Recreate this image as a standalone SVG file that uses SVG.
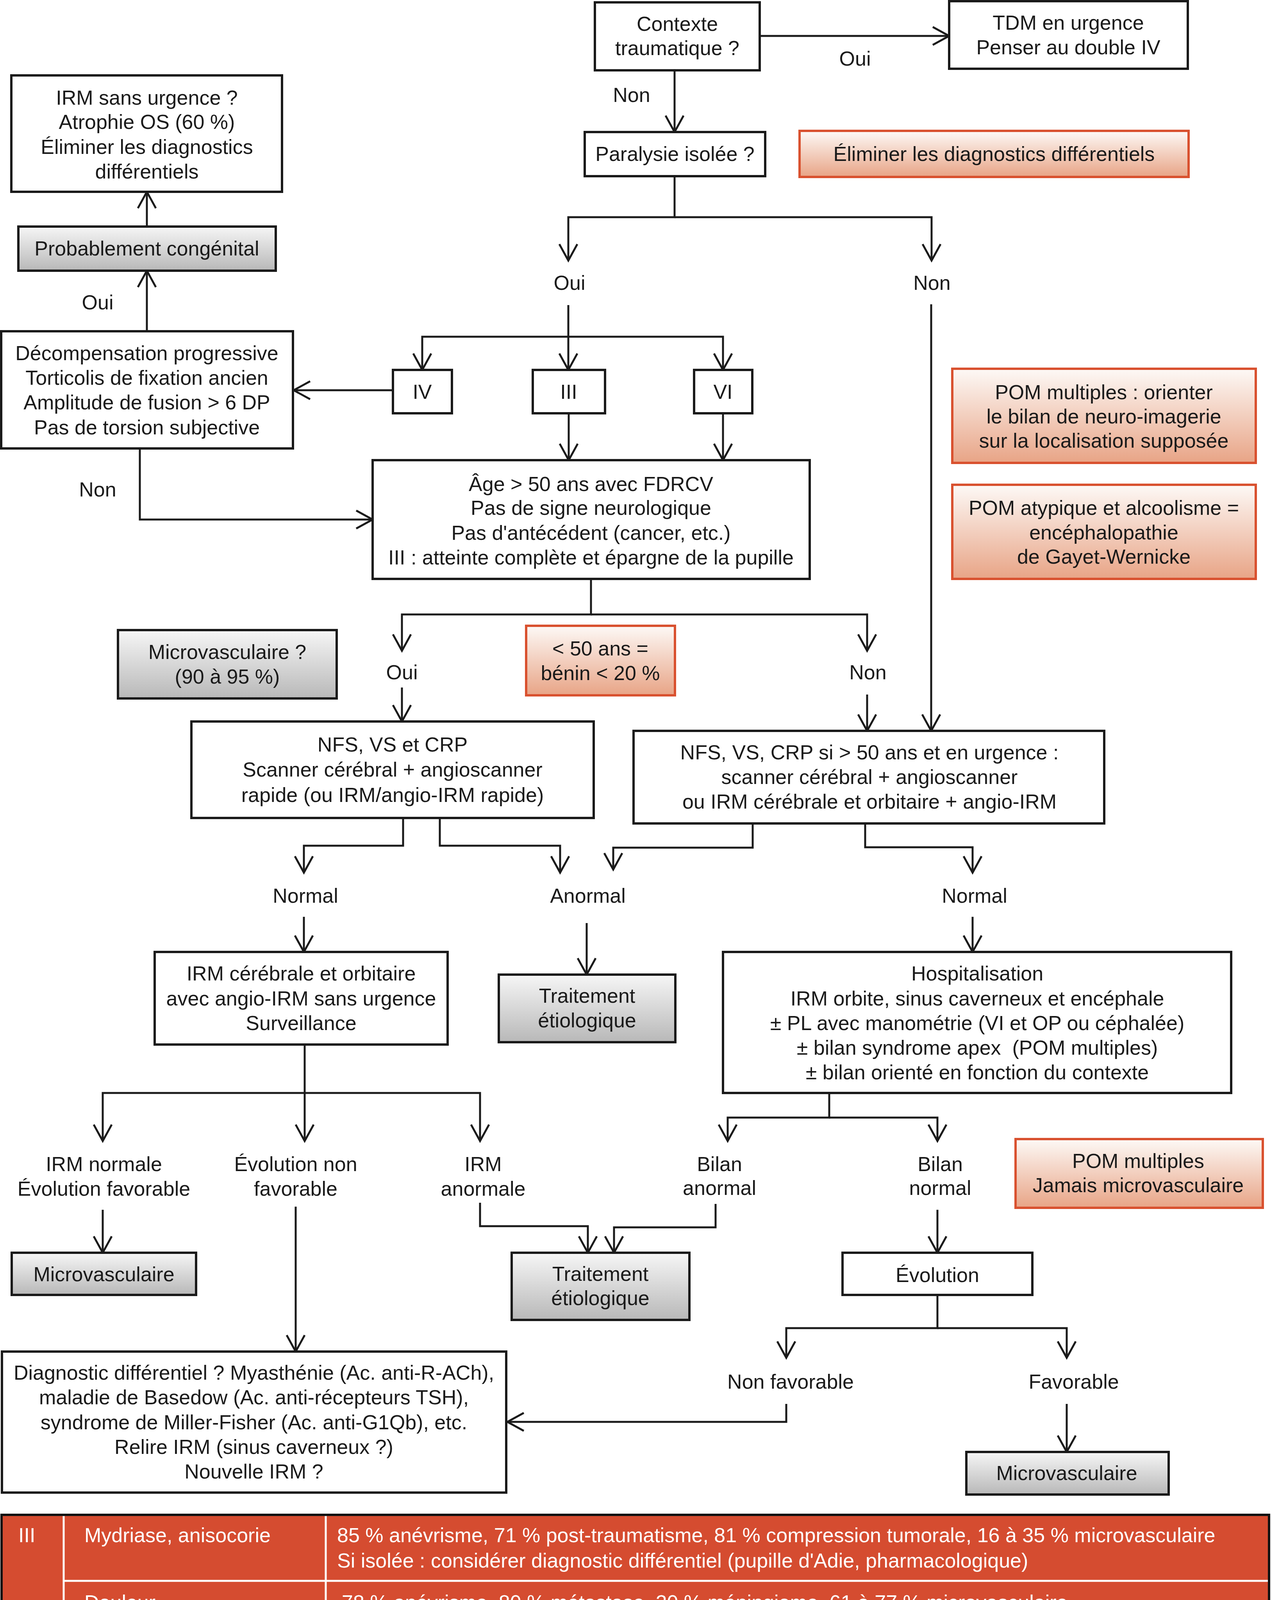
<svg xmlns="http://www.w3.org/2000/svg" width="3254" height="4664" viewBox="0 0 3254 4664">
<defs>
<linearGradient id="gg" x1="0" y1="0" x2="0" y2="1"><stop offset="0" stop-color="#f6f6f6"/><stop offset="1" stop-color="#b8b8b8"/></linearGradient>
<linearGradient id="og" x1="0" y1="0" x2="0" y2="1"><stop offset="0" stop-color="#fdf9f6"/><stop offset="1" stop-color="#e8a486"/></linearGradient>
<marker id="ah" markerUnits="userSpaceOnUse" viewBox="-48 -30 58 60" refX="0" refY="0" markerWidth="58" markerHeight="60" orient="auto"><path d="M-42,-23 L0,0 L-42,23" fill="none" stroke="#1a1a1a" stroke-width="5"/></marker>
</defs>
<style>
.n{fill:#fff;stroke:#1a1a1a;stroke-width:6}
.g{fill:url(#gg);stroke:#1a1a1a;stroke-width:6}
.o{fill:url(#og);stroke:#d9512f;stroke-width:6}
text{font-family:"Liberation Sans",Arial,Helvetica,sans-serif;font-size:52px;fill:#1a1a1a}
.c{text-anchor:middle}
.w{fill:#fff}
.a{fill:none;stroke:#1a1a1a;stroke-width:5;marker-end:url(#ah)}
.tl{stroke:#fff;stroke-width:5}
</style>
<rect width="3254" height="4664" fill="#fff"/>
<g id="connectors">
<path class="a" d="M1945,92 H2430"/>
<path class="a" d="M1727,180 V338"/>
<path class="a" d="M1727,451 V556 H1455 V667"/>
<path class="a" d="M1727,556 H2385 V667"/>
<path class="a" d="M1455,781 V947"/>
<path class="a" d="M1455,862 H1081 V947"/>
<path class="a" d="M1455,862 H1851 V947"/>
<path class="a" d="M1006,999 H752"/>
<path class="a" d="M376,848 V693"/>
<path class="a" d="M376,580 V491"/>
<path class="a" d="M358,1148 V1330 H954"/>
<path class="a" d="M1456,1058 V1178"/>
<path class="a" d="M1851,1058 V1178"/>
<path class="a" d="M2384,779 V1871"/>
<path class="a" d="M1513,1482 V1573 H1029 V1666"/>
<path class="a" d="M1513,1573 H2220 V1666"/>
<path class="a" d="M1029,1760 V1847"/>
<path class="a" d="M2220,1778 V1871"/>
<path class="a" d="M1032,2094 V2165 H778 V2234"/>
<path class="a" d="M1126,2094 V2165 H1434 V2234"/>
<path class="a" d="M1927,2108 V2170 H1570 V2226"/>
<path class="a" d="M2215,2108 V2169 H2490 V2234"/>
<path class="a" d="M778,2347 V2437"/>
<path class="a" d="M1502,2363 V2495"/>
<path class="a" d="M2490,2347 V2437"/>
<path class="a" d="M780,2674 V2921"/>
<path class="a" d="M780,2798 H263 V2921"/>
<path class="a" d="M780,2798 H1229 V2921"/>
<path class="a" d="M2123,2798 V2861 H1863 V2921"/>
<path class="a" d="M2123,2861 H2400 V2921"/>
<path class="a" d="M263,3097 V3207"/>
<path class="a" d="M757,3089 V3460"/>
<path class="a" d="M1229,3079 V3139 H1505 V3207"/>
<path class="a" d="M1832,3082 V3142 H1572 V3207"/>
<path class="a" d="M2400,3097 V3207"/>
<path class="a" d="M2400,3315 V3400 H2013 V3476"/>
<path class="a" d="M2400,3400 H2731 V3476"/>
<path class="a" d="M2013,3594 V3640 H1299"/>
<path class="a" d="M2731,3594 V3717"/>
</g>
<g id="labels">
<text class="c" x="2189" y="168">Oui</text>
<text class="c" x="1617" y="261">Non</text>
<text class="c" x="250" y="792">Oui</text>
<text class="c" x="1458" y="742">Oui</text>
<text class="c" x="2386" y="742">Non</text>
<text class="c" x="250" y="1271">Non</text>
<text class="c" x="1029" y="1739">Oui</text>
<text class="c" x="2222" y="1739">Non</text>
<text class="c" x="782" y="2311">Normal</text>
<text class="c" x="1505" y="2311">Anormal</text>
<text class="c" x="2495" y="2311">Normal</text>
<text class="c" x="266" y="2998">IRM normale</text>
<text class="c" x="266" y="3061">Évolution favorable</text>
<text class="c" x="757" y="2998">Évolution non</text>
<text class="c" x="757" y="3061">favorable</text>
<text class="c" x="1237" y="2998">IRM</text>
<text class="c" x="1237" y="3061">anormale</text>
<text class="c" x="1842" y="2998">Bilan</text>
<text class="c" x="1842" y="3059">anormal</text>
<text class="c" x="2407" y="2998">Bilan</text>
<text class="c" x="2407" y="3059">normal</text>
<text class="c" x="2024" y="3555">Non favorable</text>
<text class="c" x="2749" y="3555">Favorable</text>
</g>
<g id="n-contexte"><rect class="n" x="1523" y="6" width="422" height="174"/><text class="c" x="1734" y="79">Contexte</text><text class="c" x="1734" y="141">traumatique ?</text></g>
<g id="n-tdm"><rect class="n" x="2430" y="3" width="611" height="173"/><text class="c" x="2735" y="76">TDM en urgence</text><text class="c" x="2735" y="139">Penser au double IV</text></g>
<g id="n-paralysie"><rect class="n" x="1497" y="338" width="462" height="113"/><text class="c" x="1728" y="412">Paralysie isolée ?</text></g>
<g id="n-eliminer"><rect class="o" x="2047" y="335" width="996" height="118"/><text class="c" x="2545" y="412">Éliminer les diagnostics différentiels</text></g>
<g id="n-irm-sans"><rect class="n" x="29" y="193" width="693" height="298"/><text class="c" x="376" y="268">IRM sans urgence ?</text><text class="c" x="376" y="330">Atrophie OS (60 %)</text><text class="c" x="376" y="394">Éliminer les diagnostics</text><text class="c" x="376" y="457">différentiels</text></g>
<g id="n-congenital"><rect class="g" x="47" y="580" width="659" height="113"/><text class="c" x="376" y="654">Probablement congénital</text></g>
<g id="n-decomp"><rect class="n" x="3" y="848" width="747" height="300"/><text class="c" x="376" y="922">Décompensation progressive</text><text class="c" x="376" y="985">Torticolis de fixation ancien</text><text class="c" x="376" y="1048">Amplitude de fusion &gt; 6 DP</text><text class="c" x="376" y="1112">Pas de torsion subjective</text></g>
<g id="n-iv"><rect class="n" x="1006" y="947" width="151" height="111"/><text class="c" x="1081" y="1021">IV</text></g>
<g id="n-iii"><rect class="n" x="1364" y="947" width="185" height="111"/><text class="c" x="1456" y="1021">III</text></g>
<g id="n-vi"><rect class="n" x="1777" y="947" width="149" height="111"/><text class="c" x="1851" y="1021">VI</text></g>
<g id="n-pom-orient"><rect class="o" x="2438" y="944" width="777" height="241"/><text class="c" x="2826" y="1022">POM multiples : orienter</text><text class="c" x="2826" y="1084">le bilan de neuro-imagerie</text><text class="c" x="2826" y="1146">sur la localisation supposée</text></g>
<g id="n-pom-atyp"><rect class="o" x="2438" y="1241" width="777" height="241"/><text class="c" x="2826" y="1318">POM atypique et alcoolisme =</text><text class="c" x="2826" y="1381">encéphalopathie</text><text class="c" x="2826" y="1443">de Gayet-Wernicke</text></g>
<g id="n-age"><rect class="n" x="954" y="1178" width="1119" height="304"/><text class="c" x="1513" y="1257">Âge &gt; 50 ans avec FDRCV</text><text class="c" x="1513" y="1318">Pas de signe neurologique</text><text class="c" x="1513" y="1382">Pas d'antécédent (cancer, etc.)</text><text class="c" x="1513" y="1445">III : atteinte complète et épargne de la pupille</text></g>
<g id="n-microq"><rect class="g" x="302" y="1613" width="560" height="175"/><text class="c" x="582" y="1687">Microvasculaire ?</text><text class="c" x="582" y="1750">(90 à 95 %)</text></g>
<g id="n-moins50"><rect class="o" x="1347" y="1602" width="381" height="178"/><text class="c" x="1537" y="1678">&lt; 50 ans =</text><text class="c" x="1537" y="1741">bénin &lt; 20 %</text></g>
<g id="n-nfs1"><rect class="n" x="490" y="1847" width="1030" height="247"/><text class="c" x="1005" y="1924">NFS, VS et CRP</text><text class="c" x="1005" y="1988">Scanner cérébral + angioscanner</text><text class="c" x="1005" y="2053">rapide (ou IRM/angio-IRM rapide)</text></g>
<g id="n-nfs2"><rect class="n" x="1622" y="1871" width="1205" height="237"/><text class="c" x="2226" y="1944">NFS, VS, CRP si &gt; 50 ans et en urgence :</text><text class="c" x="2226" y="2007">scanner cérébral + angioscanner</text><text class="c" x="2226" y="2070">ou IRM cérébrale et orbitaire + angio-IRM</text></g>
<g id="n-irm-cer"><rect class="n" x="396" y="2437" width="750" height="237"/><text class="c" x="771" y="2510">IRM cérébrale et orbitaire</text><text class="c" x="771" y="2574">avec angio-IRM sans urgence</text><text class="c" x="771" y="2637">Surveillance</text></g>
<g id="n-trait1"><rect class="g" x="1277" y="2495" width="452" height="173"/><text class="c" x="1503" y="2567">Traitement</text><text class="c" x="1503" y="2630">étiologique</text></g>
<g id="n-hosp"><rect class="n" x="1851" y="2437" width="1301" height="361"/><text class="c" x="2502" y="2510">Hospitalisation</text><text class="c" x="2502" y="2574">IRM orbite, sinus caverneux et encéphale</text><text class="c" x="2502" y="2637">± PL avec manométrie (VI et OP ou céphalée)</text><text class="c" x="2502" y="2700">± bilan syndrome apex&#160; (POM multiples)</text><text class="c" x="2502" y="2763">± bilan orienté en fonction du contexte</text></g>
<g id="n-micro1"><rect class="g" x="30" y="3207" width="472" height="108"/><text class="c" x="266" y="3280">Microvasculaire</text></g>
<g id="n-trait2"><rect class="g" x="1310" y="3207" width="455" height="172"/><text class="c" x="1537" y="3279">Traitement</text><text class="c" x="1537" y="3341">étiologique</text></g>
<g id="n-evolution"><rect class="n" x="2157" y="3207" width="486" height="108"/><text class="c" x="2400" y="3282">Évolution</text></g>
<g id="n-pom-jamais"><rect class="o" x="2600" y="2916" width="633" height="176"/><text class="c" x="2914" y="2990">POM multiples</text><text class="c" x="2914" y="3052">Jamais microvasculaire</text></g>
<g id="n-diag"><rect class="n" x="5" y="3460" width="1291" height="361"/><text class="c" x="650" y="3532">Diagnostic différentiel ? Myasthénie (Ac. anti-R-ACh),</text><text class="c" x="650" y="3595">maladie de Basedow (Ac. anti-récepteurs TSH),</text><text class="c" x="650" y="3659">syndrome de Miller-Fisher (Ac. anti-G1Qb), etc.</text><text class="c" x="650" y="3722">Relire IRM (sinus caverneux ?)</text><text class="c" x="650" y="3785">Nouvelle IRM ?</text></g>
<g id="n-micro2"><rect class="g" x="2474" y="3717" width="518" height="109"/><text class="c" x="2731" y="3789">Microvasculaire</text></g>
<g id="table">
<rect x="4" y="3878" width="3245" height="782" fill="#d54c30" stroke="#111" stroke-width="6"/>
<line class="tl" x1="163" y1="3881" x2="163" y2="4657"/>
<line class="tl" x1="834" y1="3881" x2="834" y2="4657"/>
<line class="tl" x1="163" y1="4047" x2="3246" y2="4047"/>
<line class="tl" x1="163" y1="4155" x2="3246" y2="4155"/>
<line class="tl" x1="163" y1="4274" x2="3246" y2="4274"/>
<line class="tl" x1="7" y1="4444" x2="3246" y2="4444"/>
<line class="tl" x1="7" y1="4552" x2="3246" y2="4552"/>
<text class="w" x="47" y="3948">III</text>
<text class="w" x="216" y="3948">Mydriase, anisocorie</text>
<text class="w" x="863" y="3948">85 % anévrisme, 71 % post-traumatisme, 81 % compression tumorale, 16 à 35 % microvasculaire</text>
<text class="w" x="863" y="4013">Si isolée : considérer diagnostic différentiel (pupille d'Adie, pharmacologique)</text>
<text class="w" x="216" y="4120">Douleur</text>
<text class="w" x="875" y="4120">78 % anévrisme, 80 % métastase, 20 % méningiome, 61 à 77 % microvasculaire</text>
<text class="w" x="216" y="4228">Régénération aberrante</text>
<text class="w" x="863" y="4228">15 à 20 % : compression, traumatisme, neurochirurgie ; 0 % : microvasculaire, inflammatoire</text>
<text class="w" x="216" y="4346">Atteinte monomusculaire</text>
<text class="w" x="863" y="4346">Rarissime en phase aiguë, possible séquelle ; considérer diagnostic différentiel : myasthénie,</text>
<text class="w" x="863" y="4410">maladie de Basedow, OIN, etc.</text>
<text class="w" x="47" y="4516">IV</text>
<text class="w" x="216" y="4516">Diagnostics différentiels</text>
<text class="w" x="863" y="4516"><tspan font-style="italic">Skew deviation,</tspan> myasthénie, maladie de Basedow, etc.</text>
<text class="w" x="47" y="4625">VI</text>
<text class="w" x="216" y="4625">Diagnostics différentiels</text>
<text class="w" x="863" y="4625">Myasthénie, maladie de Basedow, ésophorie décompensée, strabisme du myope fort, etc.</text>
</g>
</svg>
